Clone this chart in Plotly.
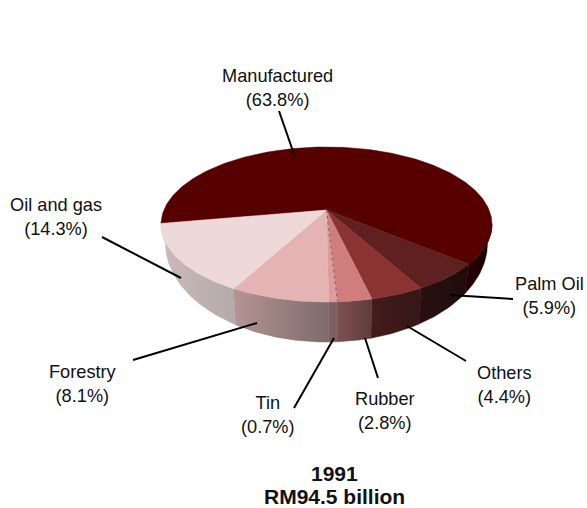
import math
import plotly.graph_objects as go

# Data
categories = ["Manufactured", "Palm Oil", "Others", "Rubber", "Tin", "Forestry", "Oil and gas"]
shares = [63.8, 5.9, 4.4, 2.8, 0.7, 8.1, 14.3]
year_label = "1991"
total_label = "RM94.5 billion"

# Styles
top_colors = ["#560000", "#602020", "#8b3232", "#cf7d7d", "#dc9c9c", "#e4b4b4", "#eed9d8"]
wall_colors = [("#2c0000", "#160000"), ("#2a1010", "#1f0c0c"), ("#451b1b", "#351616"),
               ("#7f5050", "#5e3c3c"), ("#7d5f5f", "#7d5f5f"), ("#b59494", "#7f6a6a"),
               ("#cbbaba", "#b5a9a9")]

# Label layout: category -> (centre x, centre y), leader line
label_pos = {
    "Manufactured": (277, 87.5, (279, 111), (295, 157)),
    "Palm Oil": (549, 295.5, (513, 299), (450, 295)),
    "Others": (504.5, 384.5, (466, 361), (407, 326)),
    "Rubber": (384.5, 410.5, (378, 378), (365, 338)),
    "Tin": (268, 414.5, (294, 408), (334, 338)),
    "Forestry": (83, 383.5, (133, 360), (257, 323)),
    "Oil and gas": (56, 216.5, (102, 237), (181, 278)),
}

# Projection of the tilted disc
CX, CY = 326.5, 210.0
K, A, B = 0.187, 162.6, 74.8
START = 260.0
VIS_FROM, VIS_TO = 100.8, 260.0
RX_TOP, RX_BOT, CY_BOT, RY_BOT = 165.5, 161.0, 243.0, 99.0


def top_pt(theta):
    t = math.radians(theta)
    x, y = math.sin(t), math.cos(t)
    d = 1 + K * y
    return CX + A * x / d, CY - B * y / d


def bot_pt(theta):
    X, _ = top_pt(theta)
    u = max(-1, min(1, (X - CX) / RX_TOP))
    return CX + u * RX_BOT, CY_BOT + RY_BOT * math.sqrt(1 - u * u)


def arc(a, b, n=None):
    n = n or max(2, int(abs(b - a)) + 2)
    return [a + (b - a) * i / (n - 1) for i in range(n)]


fig = go.Figure()
edges = []
cur = START
for s in shares:
    edges.append((cur, cur + s * 3.6))
    cur += s * 3.6

# walls
for (a, b), (c0, c1) in zip(edges, wall_colors):
    for off in (0, -360):
        lo, hi = max(a + off, VIS_FROM), min(b + off, VIS_TO)
        if hi <= lo:
            continue
        thetas = arc(lo, hi)
        pts = [top_pt(t) for t in thetas] + [bot_pt(t) for t in reversed(thetas)]
        xs = [p[0] for p in pts] + [pts[0][0]]
        ys = [p[1] for p in pts] + [pts[0][1]]
        fig.add_trace(go.Scatter(
            x=xs, y=ys, mode="lines", line=dict(width=0.5, color=c1), fill="toself",
            fillgradient=dict(type="horizontal", colorscale=[[0, c0], [1, c1]]),
            hoverinfo="skip", showlegend=False))

# top faces
for (a, b), c in zip(edges, top_colors):
    pts = [(CX, CY)] + [top_pt(t) for t in arc(a, b)] + [(CX, CY)]
    fig.add_trace(go.Scatter(
        x=[p[0] for p in pts], y=[p[1] for p in pts], mode="lines",
        line=dict(width=0.5, color=c), fill="toself", fillcolor=c,
        hoverinfo="skip", showlegend=False))

# dashed seam between rubber and tin
rub_end = edges[categories.index("Rubber")][1]
p = top_pt(rub_end)
fig.add_trace(go.Scatter(x=[CX, p[0]], y=[CY, p[1]], mode="lines",
                         line=dict(width=1, color="#8a5a5a", dash="3px,3px"),
                         hoverinfo="skip", showlegend=False))

# leaders and labels
annotations = []
for cat, share in zip(categories, shares):
    lx, ly, l0, l1 = label_pos[cat]
    fig.add_trace(go.Scatter(x=[l0[0], l1[0]], y=[l0[1], l1[1]], mode="lines",
                             line=dict(width=2, color="#000000"),
                             hoverinfo="skip", showlegend=False))
    annotations.append(dict(x=lx, y=ly, xref="x", yref="y", showarrow=False,
                            text=f"{cat}<br>({share}%)", align="center",
                            font=dict(size=18.2, color="#111111")))
for text, ty in ((year_label, 473), (total_label, 496)):
    annotations.append(dict(x=334, y=ty, xref="x", yref="y", showarrow=False,
                            text=f"<b>{text}</b>", align="center",
                            font=dict(size=21, color="#111111")))

fig.update_layout(
    width=587, height=508, margin=dict(l=0, r=0, t=0, b=0),
    paper_bgcolor="white", plot_bgcolor="white",
    font=dict(family="Liberation Sans, Arial, sans-serif"),
    xaxis=dict(range=[0, 587], visible=False, fixedrange=True),
    yaxis=dict(range=[508, 0], visible=False, fixedrange=True),
    annotations=annotations, showlegend=False,
)
fig.write_html("out.html", config={"displayModeBar": False},
               post_script="document.body.style.margin='0';document.body.style.overflow='hidden';")
